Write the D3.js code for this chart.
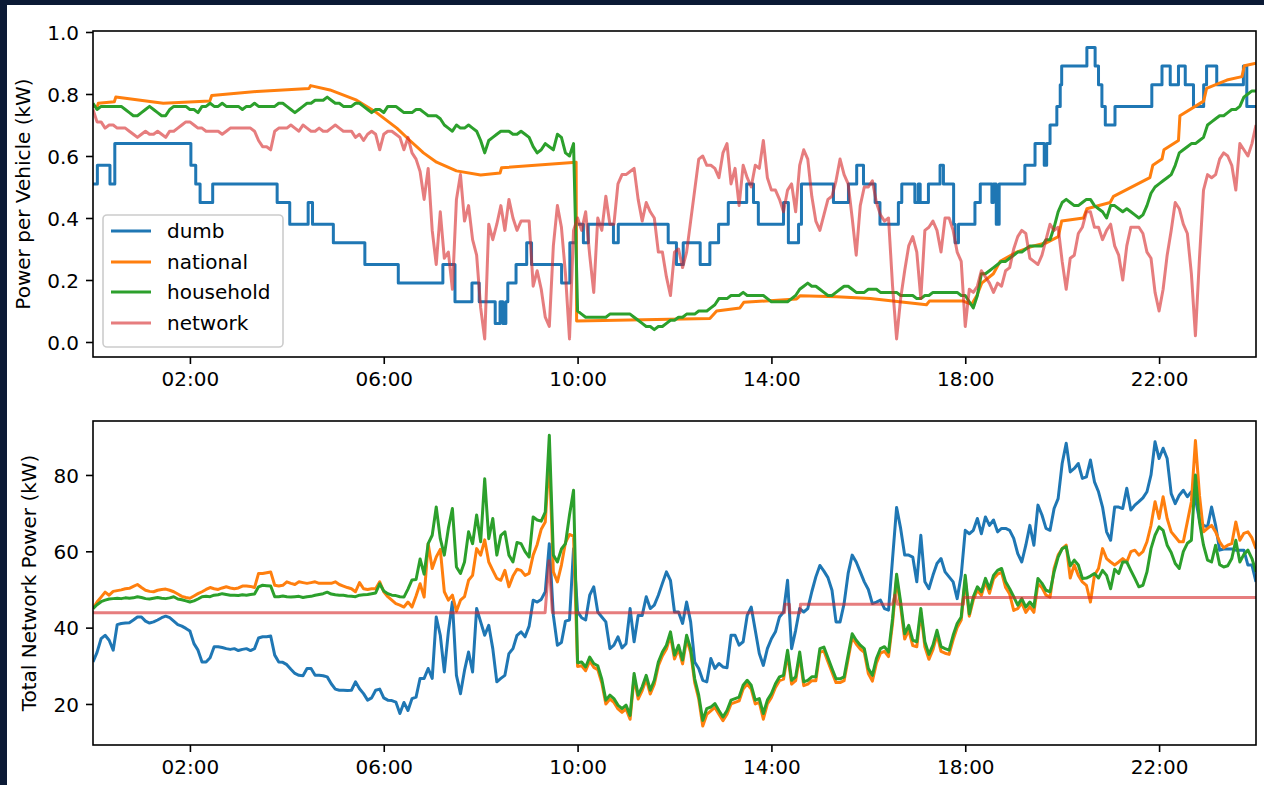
<!DOCTYPE html>
<html>
<head>
<meta charset="utf-8">
<script src="https://cdn.jsdelivr.net/npm/d3@7"></script>
<style>
  html, body { margin: 0; padding: 0; background: #0b1a35; }
  svg { display: block; }
  text { font-family: "DejaVu Sans", sans-serif; fill: #000; }
</style>
</head>
<body>
<svg id="chart" width="1264" height="785"></svg>
<script>
// ---- data -------------------------------------------------------------
// Sampled series start at 00:00 and are spaced SAMPLE_MINUTES apart.
const SAMPLE_MINUTES = 5;

const seriesNames = ["dumb", "national", "household", "network"];
const xTickHours = [2, 6, 10, 14, 18, 22];
const xTickLabels = ["02:00", "06:00", "10:00", "14:00", "18:00", "22:00"];
const perVehicleTicks = [0.0, 0.2, 0.4, 0.6, 0.8, 1.0];
const totalPowerTicks = [20, 40, 60, 80];

// Power per vehicle (kW) — dumb charging, step changes [hour, kW]
const vehicleDumb = [
  [0, 0.51], [0.09, 0.57], [0.35, 0.51], [0.45, 0.64], [2.02, 0.57], [2.12, 0.51], [2.21, 0.45],
  [2.47, 0.51], [3.80, 0.45], [4.06, 0.38], [4.44, 0.45], [4.53, 0.38], [4.96, 0.32], [5.61, 0.25],
  [6.30, 0.19], [7.22, 0.25], [7.47, 0.13], [7.82, 0.19], [7.97, 0.13], [8.30, 0.06], [8.40, 0.13],
  [8.46, 0.06], [8.52, 0.13], [8.56, 0.19], [8.73, 0.25], [8.95, 0.32], [9.05, 0.25], [9.67, 0.19],
  [9.84, 0.32], [9.97, 0.38], [10.12, 0.32], [10.22, 0.38], [10.74, 0.32], [10.84, 0.38], [11.87, 0.32],
  [12.04, 0.25], [12.18, 0.32], [12.53, 0.25], [12.73, 0.32], [12.91, 0.38], [13.11, 0.45], [13.49, 0.51],
  [13.63, 0.45], [13.73, 0.38], [14.25, 0.45], [14.35, 0.32], [14.56, 0.38], [14.62, 0.51], [15.28, 0.45],
  [15.59, 0.51], [15.76, 0.57], [15.90, 0.51], [16.14, 0.45], [16.24, 0.38], [16.62, 0.45], [16.69, 0.51],
  [16.96, 0.45], [17.03, 0.51], [17.07, 0.45], [17.24, 0.51], [17.48, 0.57], [17.55, 0.51], [17.76, 0.38],
  [17.79, 0.32], [17.86, 0.38], [18.20, 0.45], [18.31, 0.51], [18.55, 0.45], [18.58, 0.51], [18.64, 0.38],
  [18.70, 0.51], [19.23, 0.57], [19.44, 0.64], [19.63, 0.57], [19.68, 0.64], [19.75, 0.70], [19.89, 0.76],
  [19.96, 0.83], [19.99, 0.89], [20.51, 0.95], [20.68, 0.89], [20.75, 0.83], [20.82, 0.76], [20.89, 0.70],
  [21.09, 0.76], [21.85, 0.83], [22.06, 0.89], [22.23, 0.83], [22.40, 0.89], [22.54, 0.83], [22.71, 0.76],
  [22.92, 0.83], [22.98, 0.89], [23.19, 0.83], [23.74, 0.89], [23.81, 0.76], [24.0, 0.76]
];

// Power per vehicle (kW) — national signal, [hour, kW]
const vehicleNational = [
  [0, 0.76], [0.09, 0.76], [0.11, 0.77], [0.44, 0.775], [0.47, 0.79], [1.45, 0.77], [2.41, 0.777],
  [2.45, 0.795], [3.38, 0.808], [4.46, 0.818], [4.49, 0.827], [4.89, 0.813], [5.44, 0.78], [5.85, 0.74],
  [6.27, 0.69], [6.54, 0.65], [6.82, 0.61], [7.09, 0.58], [7.5, 0.552], [8.0, 0.539], [8.4, 0.545],
  [8.43, 0.562], [9.97, 0.58], [9.98, 0.068], [12.73, 0.076], [12.87, 0.10], [13.35, 0.11], [13.43, 0.128],
  [14.52, 0.139], [14.59, 0.149], [15.35, 0.146], [16.04, 0.14], [17.2, 0.12], [17.26, 0.132], [17.96, 0.132],
  [18.13, 0.121], [18.24, 0.15], [18.34, 0.19], [18.58, 0.22], [18.72, 0.26], [19.06, 0.29], [19.41, 0.31],
  [19.68, 0.32], [19.92, 0.34], [19.99, 0.39], [20.44, 0.40], [20.51, 0.43], [20.99, 0.45], [21.06, 0.47],
  [21.81, 0.53], [21.87, 0.57], [22.06, 0.59], [22.1, 0.62], [22.4, 0.65], [22.43, 0.73], [22.92, 0.777],
  [22.98, 0.818], [23.4, 0.845], [23.71, 0.856], [23.76, 0.891], [24, 0.899]
];

// Power per vehicle (kW) — household signal, every 5 minutes
const vehicleHousehold = [
  0.77, 0.75, 0.76, 0.76, 0.76, 0.76, 0.76, 0.76, 0.75, 0.74,
  0.73, 0.73, 0.74, 0.75, 0.76, 0.75, 0.74, 0.73, 0.73, 0.75,
  0.76, 0.76, 0.76, 0.76, 0.75, 0.75, 0.74, 0.76, 0.76, 0.77,
  0.76, 0.76, 0.77, 0.76, 0.76, 0.76, 0.76, 0.75, 0.76, 0.76,
  0.77, 0.76, 0.76, 0.76, 0.76, 0.76, 0.77, 0.77, 0.76, 0.75,
  0.74, 0.75, 0.76, 0.77, 0.77, 0.78, 0.78, 0.78, 0.79, 0.78,
  0.77, 0.77, 0.76, 0.76, 0.76, 0.77, 0.77, 0.76, 0.75, 0.74,
  0.75, 0.75, 0.74, 0.76, 0.76, 0.76, 0.75, 0.74, 0.74, 0.74,
  0.75, 0.75, 0.74, 0.73, 0.73, 0.73, 0.72, 0.70, 0.69, 0.68,
  0.70, 0.69, 0.69, 0.70, 0.69, 0.68, 0.65, 0.61, 0.65, 0.66,
  0.67, 0.68, 0.68, 0.68, 0.67, 0.67, 0.68, 0.67, 0.66, 0.63,
  0.61, 0.62, 0.64, 0.63, 0.62, 0.67, 0.66, 0.61, 0.60, 0.64,
  0.10, 0.09, 0.08, 0.08, 0.08, 0.08, 0.08, 0.08, 0.09, 0.09,
  0.09, 0.09, 0.09, 0.09, 0.08, 0.07, 0.06, 0.05, 0.05, 0.04,
  0.05, 0.05, 0.06, 0.07, 0.07, 0.08, 0.08, 0.09, 0.09, 0.09,
  0.10, 0.10, 0.10, 0.11, 0.12, 0.14, 0.14, 0.14, 0.15, 0.15,
  0.15, 0.16, 0.15, 0.15, 0.15, 0.15, 0.15, 0.14, 0.13, 0.13,
  0.13, 0.13, 0.13, 0.14, 0.15, 0.17, 0.18, 0.19, 0.18, 0.18,
  0.17, 0.16, 0.15, 0.15, 0.16, 0.17, 0.18, 0.18, 0.17, 0.16,
  0.16, 0.16, 0.17, 0.17, 0.17, 0.16, 0.16, 0.16, 0.16, 0.16,
  0.15, 0.15, 0.15, 0.15, 0.14, 0.14, 0.15, 0.15, 0.16, 0.16,
  0.16, 0.16, 0.16, 0.16, 0.16, 0.15, 0.15, 0.13, 0.11, 0.15,
  0.22, 0.22, 0.23, 0.24, 0.25, 0.26, 0.26, 0.27, 0.28, 0.29,
  0.29, 0.30, 0.31, 0.31, 0.31, 0.31, 0.33, 0.33, 0.37, 0.42,
  0.45, 0.46, 0.45, 0.44, 0.44, 0.45, 0.46, 0.46, 0.44, 0.43,
  0.42, 0.40, 0.44, 0.44, 0.43, 0.42, 0.43, 0.42, 0.41, 0.40,
  0.41, 0.44, 0.48, 0.50, 0.51, 0.52, 0.53, 0.54, 0.57, 0.61,
  0.62, 0.63, 0.64, 0.64, 0.65, 0.66, 0.70, 0.71, 0.72, 0.73,
  0.73, 0.74, 0.75, 0.75, 0.76, 0.79, 0.80, 0.81, 0.81
];

// Power per vehicle (kW) — network signal, every 5 minutes
const vehicleNetwork = [
  0.75, 0.71, 0.71, 0.69, 0.70, 0.70, 0.69, 0.69, 0.69, 0.68,
  0.67, 0.66, 0.67, 0.68, 0.67, 0.67, 0.68, 0.67, 0.66, 0.68,
  0.68, 0.69, 0.70, 0.71, 0.71, 0.70, 0.69, 0.69, 0.68, 0.68,
  0.68, 0.68, 0.67, 0.68, 0.69, 0.69, 0.69, 0.69, 0.69, 0.69,
  0.68, 0.65, 0.63, 0.63, 0.62, 0.68, 0.69, 0.69, 0.69, 0.70,
  0.69, 0.68, 0.70, 0.69, 0.68, 0.68, 0.69, 0.68, 0.68, 0.69,
  0.70, 0.69, 0.68, 0.68, 0.68, 0.66, 0.67, 0.65, 0.67, 0.68,
  0.67, 0.62, 0.67, 0.68, 0.68, 0.67, 0.66, 0.62, 0.66, 0.61,
  0.59, 0.55, 0.46, 0.56, 0.36, 0.25, 0.42, 0.27, 0.29, 0.17,
  0.46, 0.54, 0.39, 0.44, 0.33, 0.28, 0.11, 0.01, 0.38, 0.33,
  0.38, 0.44, 0.36, 0.46, 0.40, 0.36, 0.39, 0.39, 0.39, 0.18,
  0.23, 0.17, 0.08, 0.05, 0.31, 0.44, 0.37, 0.22, 0.01, 0.36,
  0.40, 0.36, 0.42, 0.28, 0.16, 0.40, 0.36, 0.47, 0.38, 0.38,
  0.51, 0.54, 0.54, 0.55, 0.56, 0.46, 0.39, 0.45, 0.42, 0.40,
  0.29, 0.29, 0.21, 0.15, 0.29, 0.30, 0.24, 0.29, 0.39, 0.49,
  0.59, 0.60, 0.57, 0.57, 0.56, 0.53, 0.61, 0.64, 0.51, 0.56,
  0.44, 0.57, 0.53, 0.50, 0.57, 0.56, 0.65, 0.53, 0.49, 0.49,
  0.46, 0.42, 0.49, 0.51, 0.42, 0.57, 0.62, 0.59, 0.47, 0.39,
  0.36, 0.41, 0.46, 0.47, 0.52, 0.59, 0.54, 0.51, 0.40, 0.28,
  0.44, 0.50, 0.50, 0.52, 0.45, 0.41, 0.39, 0.40, 0.18, 0.01,
  0.14, 0.23, 0.31, 0.34, 0.29, 0.14, 0.36, 0.37, 0.39, 0.36,
  0.29, 0.40, 0.40, 0.36, 0.29, 0.26, 0.05, 0.17, 0.16, 0.18,
  0.23, 0.21, 0.19, 0.16, 0.19, 0.18, 0.23, 0.24, 0.30, 0.34,
  0.36, 0.35, 0.27, 0.26, 0.25, 0.28, 0.33, 0.38, 0.36, 0.37,
  0.26, 0.17, 0.27, 0.28, 0.35, 0.37, 0.42, 0.42, 0.37, 0.37,
  0.33, 0.36, 0.38, 0.31, 0.28, 0.20, 0.31, 0.37, 0.37, 0.37,
  0.35, 0.29, 0.27, 0.16, 0.10, 0.17, 0.28, 0.36, 0.45, 0.43,
  0.38, 0.35, 0.22, 0.02, 0.27, 0.49, 0.54, 0.53, 0.54, 0.59,
  0.61, 0.60, 0.57, 0.49, 0.64, 0.62, 0.60, 0.64, 0.70
];

// Total network power (kW) — dumb charging, every 5 minutes
const totalDumb = [
  31.0, 33.5, 37.1, 38.0, 36.7, 34.1, 40.8, 41.1, 41.2, 41.3,
  42.0, 42.8, 42.8, 41.7, 41.2, 41.5, 42.0, 42.6, 43.0, 42.6,
  41.7, 40.8, 40.4, 39.8, 39.1, 35.8, 34.1, 31.0, 31.0, 32.1,
  35.0, 35.0, 34.8, 34.5, 34.3, 34.5, 34.0, 34.3, 34.5, 34.0,
  34.5, 37.3, 37.6, 37.6, 37.8, 32.8, 31.0, 30.9, 30.3, 29.1,
  28.0, 27.5, 27.4, 29.3, 29.3, 27.5, 27.5, 27.4, 27.1, 25.3,
  23.9, 23.6, 23.6, 23.5, 23.6, 25.8, 24.0, 22.7, 21.0, 21.6,
  23.6, 23.9, 21.6, 21.0, 20.9, 20.5, 17.5, 20.4, 18.3, 21.4,
  21.8, 26.7, 26.7, 29.3, 26.7, 42.8, 38.0, 28.4, 38.9, 46.7,
  27.5, 22.7, 28.8, 33.6, 28.4, 45.0, 41.5, 38.0, 40.6, 34.5,
  25.8, 26.7, 27.5, 33.2, 34.5, 38.0, 38.9, 37.6, 40.4, 47.2,
  46.7, 47.4, 49.4, 62.0, 43.2, 35.4, 36.1, 41.7, 42.0, 60.7,
  44.1, 42.6, 42.0, 48.5, 50.7, 44.1, 42.8, 41.5, 34.5, 35.4,
  37.6, 34.7, 35.8, 45.0, 36.3, 43.2, 43.2, 48.1, 45.0, 45.9,
  48.5, 51.6, 54.6, 52.4, 44.1, 44.1, 41.1, 46.7, 41.5, 31.0,
  29.3, 26.2, 25.8, 31.9, 29.3, 30.6, 29.7, 29.5, 38.0, 38.0,
  35.4, 36.3, 43.2, 45.4, 39.3, 33.2, 30.1, 34.5, 37.1, 38.9,
  42.8, 44.1, 52.4, 34.5, 39.3, 45.0, 44.1, 45.0, 49.4, 53.3,
  56.3, 54.8, 53.1, 49.8, 41.5, 41.5, 46.3, 54.2, 59.0, 57.2,
  54.6, 52.0, 50.0, 46.3, 46.7, 47.2, 45.0, 44.6, 58.1, 71.5,
  66.0, 59.0, 59.0, 58.5, 52.0, 64.2, 52.0, 50.2, 53.7, 56.8,
  58.1, 54.6, 53.3, 52.0, 47.6, 53.7, 65.5, 64.6, 65.5, 68.6,
  64.6, 69.0, 66.8, 68.2, 65.1, 66.0, 66.0, 65.5, 63.4, 59.4,
  57.2, 61.6, 66.8, 61.6, 72.1, 69.5, 66.0, 65.5, 71.2, 73.8,
  83.0, 88.3, 80.8, 81.7, 83.0, 79.1, 79.5, 83.9, 78.2, 75.6,
  71.6, 65.1, 62.9, 71.6, 71.6, 71.2, 76.5, 70.8, 72.1, 73.0,
  74.0, 75.6, 80.0, 88.7, 84.3, 87.0, 84.3, 75.1, 72.5, 74.7,
  76.0, 74.3, 75.6, 73.8, 68.2, 66.8, 66.4, 71.6, 66.8, 60.3,
  60.6, 60.6, 60.6, 60.3, 60.3, 60.3, 56.4, 56.4, 52.0
];

// Total network power (kW) — national signal, every 5 minutes
const totalNational = [
  45.0, 46.7, 48.0, 49.3, 48.5, 49.5, 49.7, 49.9, 50.2, 50.3,
  50.8, 51.3, 50.5, 49.8, 49.5, 49.4, 49.8, 50.0, 50.1, 49.8,
  49.4, 48.8, 48.2, 47.9, 47.7, 48.3, 48.9, 49.4, 50.0, 50.5,
  50.2, 50.0, 50.4, 50.7, 50.4, 50.2, 50.4, 50.9, 50.9, 50.8,
  50.5, 54.2, 54.2, 54.4, 54.6, 51.1, 50.9, 51.1, 52.0, 51.6,
  51.3, 52.0, 51.8, 51.6, 51.8, 52.0, 51.6, 51.6, 51.6, 51.6,
  52.0, 51.3, 50.9, 50.5, 50.2, 49.4, 51.8, 50.2, 50.0, 50.2,
  50.2, 52.0, 49.4, 48.1, 47.2, 46.3, 45.9, 45.4, 46.7, 45.4,
  48.3, 51.5, 48.0, 62.0, 55.5, 58.5, 60.5, 49.4, 47.2, 48.5,
  44.3, 47.2, 48.1, 52.4, 53.7, 60.7, 59.0, 63.0, 57.2, 55.0,
  52.9, 52.4, 55.0, 50.7, 53.5, 55.3, 55.0, 53.7, 54.2, 59.0,
  61.8, 65.8, 67.7, 85.0, 54.6, 52.0, 56.4, 62.3, 64.4, 64.0,
  29.8, 30.0, 28.7, 31.3, 29.6, 29.0, 25.5, 20.0, 21.3, 20.4,
  18.7, 17.8, 18.7, 16.0, 27.0, 21.3, 23.5, 26.5, 22.6, 25.2,
  30.0, 32.6, 34.4, 37.9, 31.8, 34.4, 30.5, 37.0, 33.5, 25.6,
  21.3, 14.2, 17.3, 18.2, 19.1, 17.3, 15.6, 17.3, 20.0, 20.4,
  20.8, 23.9, 25.2, 23.9, 20.0, 20.4, 16.0, 20.0, 21.7, 24.3,
  26.1, 26.5, 33.1, 25.2, 26.1, 32.6, 24.8, 25.2, 26.1, 26.1,
  33.5, 33.9, 31.1, 28.3, 25.6, 25.6, 26.1, 31.8, 37.4, 35.7,
  34.4, 33.5, 28.0, 26.0, 30.7, 33.3, 33.8, 32.4, 41.2, 52.8,
  45.5, 37.0, 39.4, 35.3, 35.0, 44.0, 35.0, 31.7, 34.2, 38.2,
  33.8, 33.3, 33.0, 36.8, 40.0, 42.0, 52.5, 43.0, 47.3, 49.8,
  48.5, 52.0, 49.0, 52.8, 54.0, 54.5, 50.5, 48.8, 44.5, 45.0,
  46.5, 44.0, 45.5, 44.0, 51.5, 50.5, 48.5, 48.0, 55.5, 59.0,
  60.7, 61.6, 53.0, 56.4, 53.7, 52.0, 51.1, 46.7, 53.7, 55.5,
  60.7, 58.1, 57.2, 56.4, 57.2, 58.1, 57.2, 59.9, 60.3, 59.0,
  59.9, 62.5, 66.8, 73.0, 68.6, 74.3, 68.6, 65.1, 63.8, 62.5,
  62.5, 67.7, 73.0, 89.0, 74.7, 65.1, 66.0, 66.8, 65.1, 62.5,
  60.9, 61.6, 62.0, 67.7, 62.9, 64.7, 65.1, 63.5, 60.7
];

// Total network power (kW) — household signal, every 5 minutes
const totalHousehold = [
  45.0, 46.0, 46.8, 47.2, 47.5, 47.6, 47.7, 47.6, 47.8, 47.7,
  47.8, 48.1, 47.9, 47.6, 47.5, 47.7, 47.9, 47.7, 47.6, 47.8,
  48.1, 47.5, 47.3, 47.0, 46.7, 47.0, 47.5, 48.1, 48.2, 48.1,
  48.5, 48.6, 48.9, 48.7, 48.5, 48.5, 48.4, 48.6, 48.5, 48.7,
  48.8, 50.7, 51.1, 51.0, 50.9, 48.1, 48.1, 48.3, 48.1, 48.0,
  48.1, 48.2, 47.9, 48.1, 48.2, 48.5, 48.7, 48.9, 49.3, 48.8,
  48.6, 48.5, 48.5, 48.3, 48.2, 48.1, 48.5, 48.6, 48.7, 48.9,
  49.1, 51.5, 49.6, 48.9, 48.5, 48.4, 48.1, 48.0, 50.1, 52.5,
  52.6, 58.0, 54.0, 62.0, 64.2, 71.6, 63.3, 59.0, 66.0, 71.2,
  55.9, 54.2, 57.2, 65.1, 62.0, 69.5, 62.5, 79.0, 63.3, 68.6,
  59.0, 64.2, 65.1, 59.0, 57.2, 62.3, 62.0, 59.9, 58.5, 69.0,
  68.2, 67.9, 70.3, 90.4, 59.0, 57.2, 60.6, 62.0, 69.5, 76.0,
  30.8, 31.0, 29.7, 32.3, 30.6, 30.0, 26.5, 21.0, 22.3, 21.4,
  19.7, 18.8, 19.7, 17.0, 28.0, 22.3, 24.5, 27.5, 23.6, 26.2,
  31.0, 33.6, 35.4, 38.9, 32.8, 35.4, 31.5, 38.0, 34.5, 26.6,
  22.3, 15.7, 18.8, 19.2, 20.1, 18.3, 16.6, 18.3, 21.0, 21.4,
  21.8, 24.9, 26.2, 24.9, 21.0, 21.4, 17.5, 21.0, 22.7, 25.3,
  27.1, 27.5, 34.1, 26.2, 27.1, 33.6, 25.8, 26.2, 27.1, 27.1,
  34.5, 34.9, 32.1, 29.3, 26.6, 26.6, 27.1, 32.8, 38.4, 36.7,
  35.4, 34.5, 29.3, 27.5, 31.9, 34.5, 35.0, 33.6, 42.4, 54.0,
  46.7, 38.4, 40.6, 36.7, 36.3, 45.0, 36.3, 33.0, 35.4, 39.3,
  35.0, 34.5, 34.1, 38.0, 41.1, 42.8, 53.7, 43.6, 48.1, 50.7,
  49.4, 52.9, 50.2, 53.7, 55.0, 55.5, 52.0, 50.2, 48.1, 45.9,
  47.6, 45.4, 46.7, 45.4, 52.9, 51.6, 49.8, 49.4, 54.6, 58.5,
  60.7, 61.2, 56.2, 57.7, 56.4, 52.9, 53.0, 53.5, 54.2, 53.0,
  55.0, 53.7, 50.2, 55.3, 54.2, 57.2, 57.2, 55.0, 52.9, 50.7,
  51.1, 54.6, 60.7, 64.2, 66.4, 65.5, 61.6, 59.7, 56.8, 55.5,
  59.9, 62.1, 62.9, 80.0, 67.7, 61.6, 57.7, 57.2, 61.6, 56.5,
  55.9, 56.2, 58.1, 62.9, 57.2, 59.2, 60.3, 58.1, 54.6
];

// Total network power (kW) — network limit, [hour, kW]
const totalNetwork = [
  [0, 43.9], [9.33, 43.9], [9.41, 57.5], [9.48, 43.9], [14.27, 43.9], [14.28, 46.1], [14.37, 46.1],
  [14.38, 43.9], [14.59, 43.9], [14.60, 46.1], [16.50, 46.1], [16.55, 48.5], [16.60, 46.1],
  [17.96, 46.1], [17.97, 47.9], [24, 47.9]
];

// ---- layout -----------------------------------------------------------
const W = 1264, H = 785;
const left = 93, right = 1256;
const topPanel = { top: 31, bottom: 357 };
const botPanel = { top: 421, bottom: 745 };
const colors = { dumb: "#1f77b4", national: "#ff7f0e", household: "#2ca02c", network: "#d62728" };
const FONT = 20;

const svg = d3.select("#chart");
svg.append("rect").attr("width", W).attr("height", H).attr("fill", "#0b1a35");
svg.append("rect").attr("x", 7).attr("y", 5).attr("width", W - 7).attr("height", H - 5).attr("fill", "#ffffff");

const x = d3.scaleLinear().domain([0, 24]).range([left, right]);
const yTop = d3.scaleLinear().domain([-0.0484, 1.0032]).range([topPanel.bottom, topPanel.top]);
const yBot = d3.scaleLinear().domain([9.25, 94.14]).range([botPanel.bottom, botPanel.top]);

const sampled = vals => vals.map((v, i) => [i * SAMPLE_MINUTES / 60, v]);

function panel(id, p, y) {
  const g = svg.append("g");
  g.append("clipPath").attr("id", id)
    .append("rect").attr("x", left).attr("y", p.top)
    .attr("width", right - left).attr("height", p.bottom - p.top);
  const plot = g.append("g").attr("clip-path", `url(#${id})`);
  return { g, plot, y };
}

function drawLine(pl, data, color, opts = {}) {
  const line = d3.line()
    .x(d => x(d[0]))
    .y(d => pl.y(d[1]))
    .curve(opts.step ? d3.curveStepAfter : d3.curveLinear);
  pl.plot.append("path")
    .datum(data)
    .attr("d", line)
    .attr("fill", "none")
    .attr("stroke", color)
    .attr("stroke-width", 3)
    .attr("stroke-opacity", opts.alpha || 1)
    .attr("stroke-linejoin", "round");
}

function axes(pl, p, yTicks, yFmt) {
  const xa = d3.axisBottom(x)
    .tickValues(xTickHours)
    .tickFormat((d, i) => xTickLabels[i])
    .tickSize(7).tickSizeOuter(0).tickPadding(8);
  const ya = d3.axisLeft(pl.y)
    .tickValues(yTicks)
    .tickFormat(yFmt)
    .tickSize(7).tickSizeOuter(0).tickPadding(7);
  const gx = pl.g.append("g").attr("transform", `translate(0,${p.bottom})`).call(xa);
  const gy = pl.g.append("g").attr("transform", `translate(${left},0)`).call(ya);
  [gx, gy].forEach(a => {
    a.select(".domain").remove();
    a.selectAll(".tick line").attr("stroke", "#000").attr("stroke-width", 1.6);
    a.selectAll(".tick text").attr("font-size", FONT).attr("fill", "#000")
      .attr("font-family", '"DejaVu Sans", sans-serif');
  });
  gy.selectAll(".tick text").attr("dy", "0.36em");
  pl.g.append("rect")
    .attr("x", left).attr("y", p.top)
    .attr("width", right - left).attr("height", p.bottom - p.top)
    .attr("fill", "none").attr("stroke", "#000").attr("stroke-width", 1.6);
}

function yLabel(text, xPos, p) {
  svg.append("text")
    .attr("transform", `translate(${xPos},${(p.top + p.bottom) / 2}) rotate(-90)`)
    .attr("text-anchor", "middle")
    .attr("font-size", FONT)
    .text(text);
}

// ---- upper panel: power per vehicle ----------------------------------
const up = panel("clip-top", topPanel, yTop);
drawLine(up, vehicleDumb, colors.dumb, { step: true });
drawLine(up, vehicleNational, colors.national);
drawLine(up, sampled(vehicleHousehold), colors.household);
drawLine(up, sampled(vehicleNetwork), colors.network, { alpha: 0.6 });
axes(up, topPanel, perVehicleTicks, d3.format(".1f"));
yLabel("Power per Vehicle (kW)", 30, topPanel);

// legend
const lg = svg.append("g");
lg.append("rect")
  .attr("x", 103).attr("y", 215).attr("width", 180).attr("height", 132)
  .attr("rx", 4).attr("ry", 4)
  .attr("fill", "#ffffff").attr("fill-opacity", 0.8)
  .attr("stroke", "#cccccc").attr("stroke-width", 1.6);
const rowY = [231, 262, 292, 323];
seriesNames.forEach((name, i) => {
  lg.append("line")
    .attr("x1", 111).attr("x2", 151).attr("y1", rowY[i]).attr("y2", rowY[i])
    .attr("stroke", colors[name]).attr("stroke-width", 3)
    .attr("stroke-opacity", name === "network" ? 0.6 : 1);
  lg.append("text")
    .attr("x", 167).attr("y", rowY[i]).attr("dy", "0.36em")
    .attr("font-size", FONT)
    .text(name);
});

// ---- lower panel: total network power --------------------------------
const low = panel("clip-bot", botPanel, yBot);
drawLine(low, sampled(totalDumb), colors.dumb);
drawLine(low, sampled(totalNational), colors.national);
drawLine(low, sampled(totalHousehold), colors.household);
drawLine(low, totalNetwork, colors.network, { alpha: 0.6 });
axes(low, botPanel, totalPowerTicks, d3.format("d"));
yLabel("Total Network Power (kW)", 36, botPanel);
</script>
</body>
</html>
